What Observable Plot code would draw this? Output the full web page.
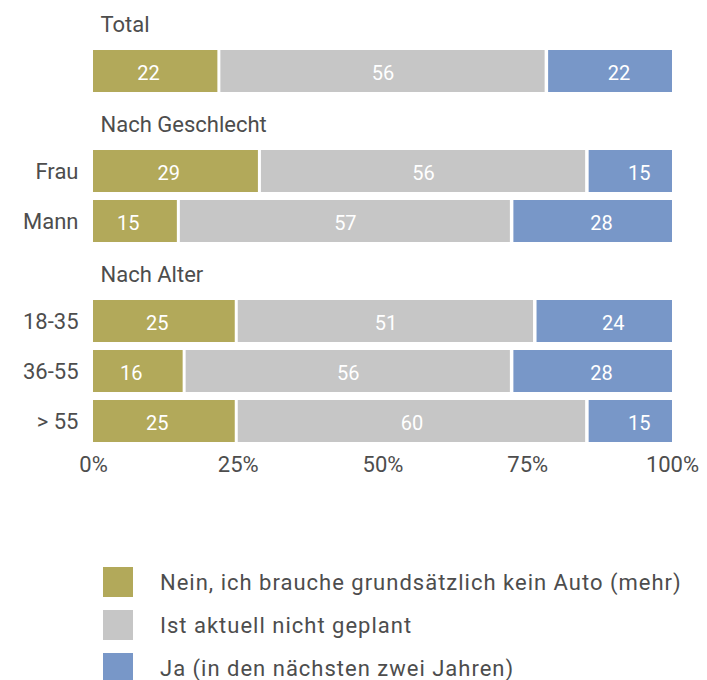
<!DOCTYPE html>
<html>
<head>
<meta charset="utf-8">
<script src="https://cdn.jsdelivr.net/npm/d3@7"></script>
<script src="https://cdn.jsdelivr.net/npm/@observablehq/plot@0.6"></script>
<style>
  body { margin: 0; background: #fff; font-family: Roboto, "Noto Sans", sans-serif; }
  #chart svg { overflow: visible; }
  .legend { margin-top: 77px; padding-left: 103px; }
  .legend .item { display: flex; align-items: center; height: 30px; margin-bottom: 13px; }
  .legend .sw { width: 30px; height: 30px; margin-right: 27px; flex: none; }
  .legend .lab { font-size: 22px; color: #4d4d4d; letter-spacing: 1px; }
</style>
</head>
<body>
<div id="chart"></div>
<div class="legend" id="legend"></div>
<script>
// ---- data ----
const rows = ["Total", "Frau", "Mann", "18-35", "36-55", "> 55"];
const headers = ["Total", "Nach Geschlecht", "Nach Alter"];
const bandKeys = ["h:Total", "Total", "h:Nach Geschlecht", "Frau", "Mann", "h:Nach Alter", "18-35", "36-55", "> 55"];
const rowTickLabels = ["Frau", "Mann", "18-35", "36-55", "> 55"];
const series = ["Nein, ich brauche grundsätzlich kein Auto (mehr)", "Ist aktuell nicht geplant", "Ja (in den nächsten zwei Jahren)"];
const nein = [22, 29, 15, 25, 16, 25];
const nichtGeplant = [56, 56, 57, 51, 56, 60];
const ja = [22, 15, 28, 24, 28, 15];
const xTicks = [0, 25, 50, 75, 100];
const colors = ["#b2a95a", "#c6c6c6", "#7897c8"];

// ---- build table ----
const valuesBySeries = [nein, nichtGeplant, ja];
const data = rows.flatMap((r, i) => {
  let acc = 0;
  return series.map((s, j) => {
    const v = valuesBySeries[j][i];
    const d = {row: r, series: s, idx: j, value: v, x1: acc, x2: acc + v};
    acc += v;
    return d;
  });
});

const textColor = "#4d4d4d";
const insets = [{insetRight: 3}, {}, {insetLeft: 3.5}];

const chart = Plot.plot({
  width: 707,
  height: 490,
  marginLeft: 93,
  marginRight: 35,
  marginTop: 0,
  marginBottom: 46.5,
  style: {fontFamily: "Roboto, sans-serif", background: "transparent"},
  x: {domain: [0, 100], label: null},
  y: {domain: bandKeys, range: [-2.5, 443.5], paddingInner: 0.17, paddingOuter: 0, label: null},
  color: {domain: series, range: colors},
  marks: [
    ...series.map((s, j) => Plot.barX(data.filter(d => d.idx === j), {x1: "x1", x2: "x2", y: "row", fill: "series", ...insets[j]})),
    Plot.text(data, {
      x: d => (d.x1 + d.x2) / 2 + (d.idx === 0 ? -1.5 : d.idx === 2 ? 1.75 : 0),
      y: "row", text: d => String(d.value),
      fill: "white", fontSize: 20, dy: 2, style: "letter-spacing:0.5px"
    }),
    Plot.text(headers, {
      frameAnchor: "left", y: d => "h:" + d, text: d => d,
      textAnchor: "start", dx: 7, dy: 3, fontSize: 22, fill: textColor,
      style: "letter-spacing:0.8px"
    }),
    Plot.axisY(rowTickLabels, {tickSize: 0, tickPadding: 15, fontSize: 22, color: textColor, label: null, style: "letter-spacing:0.8px"}),
    Plot.axisX(xTicks, {tickSize: 0, tickPadding: 12, fontSize: 22, color: textColor, label: null, tickFormat: d => d + "%"})
  ]
});
document.getElementById("chart").appendChild(chart);

// ---- legend ----
const leg = document.getElementById("legend");
series.forEach((s, i) => {
  const item = document.createElement("div");
  item.className = "item";
  const sw = document.createElement("div");
  sw.className = "sw";
  sw.style.background = colors[i];
  const lab = document.createElement("div");
  lab.className = "lab";
  lab.textContent = s;
  item.appendChild(sw);
  item.appendChild(lab);
  leg.appendChild(item);
});
</script>
</body>
</html>
